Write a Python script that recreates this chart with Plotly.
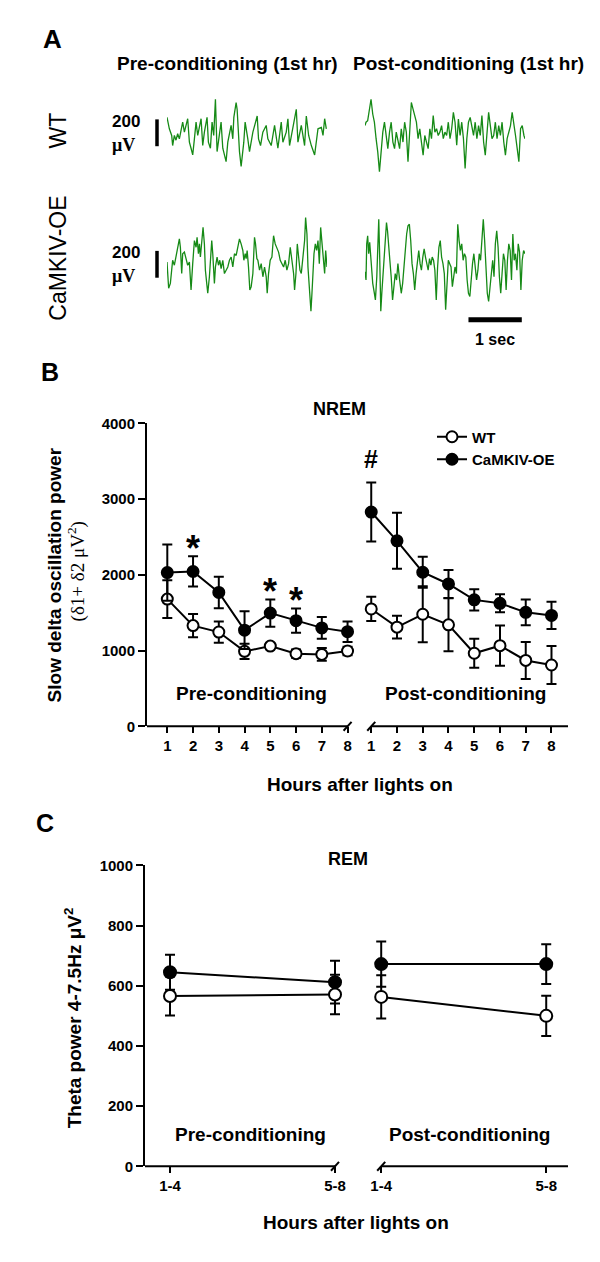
import plotly.graph_objects as go

W, H = 600, 1262
SANS = "Liberation Sans, Arial, sans-serif"
SERIF = "Liberation Serif, Times New Roman, serif"
INK = "black"
GREEN = "#168a16"

# ---------------- Panel A: EEG excerpts (time in ms, amplitude in uV) ----------------
WT_PRE_T = [0, 44, 88, 106, 138, 169, 200, 232, 294, 326, 388, 420, 451, 482, 514, 545,
            576, 639, 670, 701, 751, 776, 814, 845, 876, 908, 939, 970, 1014, 1046, 1108, 1140,
            1202, 1234, 1253, 1296, 1315, 1359, 1390, 1440, 1465, 1515, 1547, 1610, 1691, 1716, 1754, 1797,
            1860, 1891, 1954, 2017, 2048, 2079, 2142, 2173, 2236, 2267, 2298, 2361, 2424, 2455, 2518, 2580,
            2612, 2656, 2706, 2768, 2800, 2831, 2894, 2925, 2956, 2987]
WT_PRE_V = [110, 25, -25, -100, -25, -60, -12, -50, 75, 0, 100, -75, -120, -170, -50, 75,
            -25, 100, -100, 0, 110, -75, -120, 75, -25, 245, -145, -50, 75, -120, -220, -75,
            50, -50, 110, 220, 170, -145, -255, -75, 75, -50, -145, 0, 120, -50, -100, 0,
            50, -50, -100, 50, -25, -120, 75, -75, 0, 100, -100, 50, 170, -75, 50, -100,
            120, -25, -100, -170, -75, 25, 35, -25, 100, 25]

WT_POST_T = [0, 19, 50, 82, 113, 145, 176, 208, 239, 271, 302, 334, 365, 397, 428, 460, 491, 523, 554, 586,
             617, 649, 680, 712, 743, 775, 806, 838, 869, 901, 932, 964, 995, 1027, 1058, 1090, 1121, 1153,
             1184, 1216, 1247, 1279, 1310, 1342, 1373, 1405, 1436, 1468, 1499, 1531, 1562, 1594, 1625, 1657,
             1688, 1720, 1751, 1783, 1814, 1846, 1877, 1909, 1940, 1972, 2003, 2035, 2066, 2098, 2129, 2161,
             2192, 2224, 2255, 2287, 2318, 2350, 2381, 2413, 2444, 2476, 2507, 2539, 2570, 2602, 2633, 2665,
             2696, 2728, 2759, 2791, 2822, 2854, 2885, 2917, 2948, 2980, 3000]
WT_POST_V = [49, 74, 86, 172, 245, 135, 74, -49, -147, -294,
             -123, 0, 74, -49, -123, 0, 74, -74, -123, 0,
             -74, -123, 25, -74, 74, 0, -221, -25, 221, 172,
             123, 74, -49, 25, -74, -172, -25, -74, -123, 25,
             -49, 123, 0, 25, -25, 0, 49, -49, 0, -25,
             74, -49, 25, 147, 74, -98, 98, -25, 74, -49,
             -270, -49, 74, 110, 49, -25, 74, -49, 49, -25,
             123, -74, -172, 0, 147, 49, -49, -25, 74, -49,
             49, -25, 74, -74, -172, -49, 0, 49, 147, 74,
             -25, -123, -221, 25, 49, -25, -49]

OE_PRE_T = [0, 13, 31, 63, 75, 106, 138, 169, 200, 232,
            251, 276, 294, 326, 357, 388, 420, 438, 451, 482,
            514, 545, 564, 589, 608, 626, 658, 676, 701, 720,
            745, 764, 795, 814, 839, 858, 889, 908, 939, 965,
            990, 1015, 1046, 1077, 1109, 1140, 1171, 1203, 1234, 1265,
            1297, 1328, 1359, 1390, 1422, 1441, 1466, 1484, 1503, 1528,
            1553, 1578, 1610, 1641, 1660, 1685, 1704, 1735, 1766, 1798,
            1829, 1860, 1879, 1904, 1935, 1967, 1998, 2029, 2061, 2092,
            2123, 2154, 2186, 2217, 2248, 2280, 2311, 2342, 2374, 2392,
            2418, 2443, 2468, 2493, 2518, 2549, 2580, 2599, 2624, 2643,
            2662, 2681, 2699, 2718, 2737, 2756, 2781, 2806, 2831, 2856,
            2881, 2906, 2931, 2956, 2975, 3000]
OE_PRE_V = [12, -122, -184, -147, -98, 25, -12, 49, 98, 184,
            122, -74, 74, 86, 37, -12, 12, -74, -196, 0,
            172, 122, 196, 74, 147, 49, 172, 270, 147, -49,
            -147, -221, -98, 25, 172, 74, -147, -25, 49, -12,
            25, -37, 25, -74, -49, -25, 25, 49, -25, 74,
            61, 122, 184, 147, 98, 25, 74, 37, 98, -25,
            -196, -172, -74, 196, 147, 37, 25, -49, 0, -98,
            -25, -98, -221, -74, 25, 49, 208, 147, 122, 86,
            25, 0, -25, 25, -49, 0, 122, 25, -74, -196,
            -74, 147, 49, -49, -74, 49, 172, 343, 221, -25,
            -172, -294, -355, -221, -74, 74, 147, 98, 172, 0,
            270, 147, 0, -74, 98, -25]

OE_POST_T = [0, 19, 32, 50, 69, 88, 113, 145, 176, 195,
             221, 239, 258, 277, 296, 315, 340, 365, 384, 403,
             422, 441, 466, 491, 517, 542, 567, 592, 617, 649,
             680, 706, 731, 756, 781, 806, 832, 857, 882, 907,
             932, 958, 983, 1008, 1033, 1058, 1084, 1109, 1134, 1159,
             1184, 1210, 1235, 1260, 1285, 1310, 1336, 1361, 1386, 1411,
             1436, 1462, 1487, 1512, 1537, 1562, 1588, 1613, 1638, 1663,
             1688, 1714, 1739, 1764, 1789, 1814, 1840, 1865, 1890, 1915,
             1940, 1966, 1991, 2016, 2041, 2066, 2092, 2117, 2142, 2167,
             2192, 2218, 2243, 2268, 2293, 2318, 2344, 2369, 2394, 2419,
             2444, 2470, 2495, 2520, 2545, 2570, 2596, 2621, 2646, 2671,
             2696, 2722, 2747, 2772, 2797, 2822, 2848, 2873, 2898, 2923,
             2948, 2974, 3000]
OE_POST_V = [-61, -122, 147, 208, 74, 159, 25, -147, -221, -270,
             -98, 74, 331, 25, -355, -221, -74, 74, 196, 306,
             245, 172, 25, -98, -270, -172, -74, -122, 0, -122,
             -221, -147, -25, 122, 221, 282, 294, 172, 0, -74,
             -196, -74, 25, 98, 0, -49, 49, 110, 49, 0,
             -49, 37, -12, 49, 25, -49, -270, -25, 122, 172,
             49, 0, -74, -343, -98, 25, 0, -25, -172, -98,
             -25, -74, 294, 172, 98, 147, 25, 74, 49, -122,
             -221, -245, -74, 0, 74, -25, -122, -49, 74, 25,
             196, 331, 172, 0, -221, -282, -172, -74, 25, -98,
             147, 245, 122, -98, -221, -74, 74, 25, -196, 25,
             147, 98, -122, 221, 25, 74, -49, 147, 86, -196,
             25, 98, 74]

SCALE_UV = 200      # vertical calibration bar
SCALE_MS = 1000     # horizontal calibration bar

# ---------------- Panel B: NREM slow delta power ----------------
HOURS = [1, 2, 3, 4, 5, 6, 7, 8]
HOUR_LABELS = ["1", "2", "3", "4", "5", "6", "7", "8"]
B_WT_PRE = [1680, 1330, 1245, 990, 1060, 960, 950, 995]
B_WT_PRE_ERR = [250, 155, 140, 100, 40, 55, 85, 55]
B_OE_PRE = [2030, 2045, 1768, 1270, 1495, 1395, 1300, 1250]
B_OE_PRE_ERR = [370, 200, 208, 250, 180, 160, 145, 135]
B_WT_POST = [1550, 1310, 1480, 1340, 965, 1065, 870, 810]
B_WT_POST_ERR = [160, 150, 370, 350, 190, 265, 245, 250]
B_OE_POST = [2830, 2450, 2035, 1880, 1670, 1625, 1505, 1465]
B_OE_POST_ERR = [390, 370, 205, 185, 140, 120, 170, 180]
B_STAR_HOURS = [2, 5, 6]       # pre-conditioning, "*"
B_HASH_HOURS = [1]             # post-conditioning, "#"
B_YTICKS = [0, 1000, 2000, 3000, 4000]

# ---------------- Panel C: REM theta power ----------------
C_LABELS = ["1-4", "5-8"]
C_WT_PRE = [566, 571]
C_WT_PRE_ERR = [65, 66]
C_OE_PRE = [645, 612]
C_OE_PRE_ERR = [58, 71]
C_WT_POST = [563, 500]
C_WT_POST_ERR = [72, 67]
C_OE_POST = [672, 672]
C_OE_POST_ERR = [75, 66]
C_YTICKS = [0, 200, 400, 600, 800, 1000]


def PX(x):
    return x / W


def PY(y):
    return 1 - y / H


fig = go.Figure()
axes = {}
shapes = []
annotations = []


def text(x, y, s, size=19, bold=True, family=SANS, angle=0, **kw):
    annotations.append(dict(xref="paper", yref="paper", x=PX(x), y=PY(y),
                            text=f"<b>{s}</b>" if bold else s, showarrow=False,
                            font=dict(family=family, size=size, color=INK),
                            textangle=angle, xanchor="center", yanchor="middle", **kw))


def seg(x0, y0, x1, y1, width=2):
    shapes.append(dict(type="line", xref="paper", yref="paper", x0=PX(x0), y0=PY(y0),
                       x1=PX(x1), y1=PY(y1), line=dict(color=INK, width=width)))


def slash(cx, cy):
    seg(cx - 4, cy + 4.5, cx + 4, cy - 4.5, width=2)


# ---------------- Panel A layout ----------------
A_COLS = {"pre": (159, 319), "post": (357, 517)}
A_ROWS = {"WT": 116.7, "OE": 250.0}
A_HALF = 65
A_PX_PER_UV = 0.136
A_MS = 3000


def a_x(col, ms):
    x0, x1 = A_COLS[col]
    return x0 + ms / A_MS * (x1 - x0)


def a_y(row, uv):
    return A_ROWS[row] - uv * A_PX_PER_UV


a_panels = [("WT", "pre", WT_PRE_T, WT_PRE_V), ("WT", "post", WT_POST_T, WT_POST_V),
            ("OE", "pre", OE_PRE_T, OE_PRE_V), ("OE", "post", OE_POST_T, OE_POST_V)]
for i, (row, col, t, v) in enumerate(a_panels, start=1):
    xs = "" if i == 1 else str(i)
    fig.add_trace(go.Scatter(x=t, y=v, mode="lines", line=dict(color=GREEN, width=1.3),
                             xaxis="x" + xs, yaxis="y" + xs, showlegend=False, hoverinfo="skip"))
    x0, x1 = A_COLS[col]
    c = A_ROWS[row]
    axes["xaxis" + xs] = dict(domain=[PX(x0), PX(x1)], range=[0, A_MS], visible=False,
                              anchor="y" + xs)
    axes["yaxis" + xs] = dict(domain=[PY(c + A_HALF), PY(c - A_HALF)],
                              range=[-A_HALF / A_PX_PER_UV, A_HALF / A_PX_PER_UV],
                              visible=False, anchor="x" + xs)

for row in ("WT", "OE"):
    seg(149, a_y(row, -SCALE_UV / 2 - 5), 149, a_y(row, SCALE_UV / 2 - 5), width=3.5)
    cy = A_ROWS[row]
    text(118, cy - 11, "200", size=17)
    text(115, cy + 13, "μV", size=18, family=SERIF)
seg(a_x("post", 1940), a_y("OE", -419), a_x("post", 1940 + SCALE_MS), a_y("OE", -419), width=5)
text(487, 327, "1 sec", size=16)

text(44, 22, "A", size=26)
text(220, 47, "Pre-conditioning (1st hr)", size=19)
text(460, 47, "Post-conditioning (1st hr)", size=19)
text(50, 115, "WT", size=23, bold=False, angle=-90)
text(50, 245, "CaMKIV-OE", size=23, bold=False, angle=-90)

# ---------------- Panel B ----------------
B_DOM_X = (139, 560)
B_DOM_Y = (719, 412)
B_XR = [0.2117, 16.561]
B_POST_OFF = 7.92
B_YR = [0, 4000]
B_PRE_X = HOURS
B_POST_X = [h + B_POST_OFF for h in HOURS]


def bx(x):
    return B_DOM_X[0] + (x - B_XR[0]) / (B_XR[1] - B_XR[0]) * (B_DOM_X[1] - B_DOM_X[0])


TICKFONT = dict(family=SANS, size=15, color=INK, weight="bold")


def series(x, y, err, filled, xa, ya, name, show, size):
    return go.Scatter(x=x, y=y, mode="lines+markers", name=f"<b>{name}</b>", legendgroup=name,
                      showlegend=show, line=dict(color=INK, width=2),
                      marker=dict(symbol="circle", size=size, color=INK if filled else "white",
                                  line=dict(color=INK, width=2)),
                      error_y=dict(type="data", array=err, color=INK, thickness=2, width=5),
                      xaxis=xa, yaxis=ya, cliponaxis=False, hoverinfo="skip")


fig.add_trace(series(B_PRE_X, B_WT_PRE, B_WT_PRE_ERR, False, "x5", "y5", "WT", True, 11))
fig.add_trace(series(B_POST_X, B_WT_POST, B_WT_POST_ERR, False, "x5", "y5", "WT", False, 11))
fig.add_trace(series(B_PRE_X, B_OE_PRE, B_OE_PRE_ERR, True, "x5", "y5", "CaMKIV-OE", True, 11))
fig.add_trace(series(B_POST_X, B_OE_POST, B_OE_POST_ERR, True, "x5", "y5", "CaMKIV-OE", False, 11))

axes["xaxis5"] = dict(domain=[PX(B_DOM_X[0]), PX(B_DOM_X[1])], range=B_XR, anchor="y5",
                      showline=False, showgrid=False, zeroline=False, ticks="outside",
                      ticklen=6, tickwidth=2, tickcolor=INK, tickvals=B_PRE_X + B_POST_X,
                      ticktext=HOUR_LABELS + HOUR_LABELS, tickfont=TICKFONT)
axes["yaxis5"] = dict(domain=[PY(B_DOM_Y[0]), PY(B_DOM_Y[1])], range=B_YR, anchor="x5",
                      showline=True, linewidth=2, linecolor=INK, showgrid=False, zeroline=False,
                      ticks="outside", ticklen=7, tickwidth=2, tickcolor=INK,
                      tickvals=B_YTICKS, ticktext=[str(v) for v in B_YTICKS], tickfont=TICKFONT)

by0 = B_DOM_Y[0]
seg(B_DOM_X[0], by0, bx(HOURS[-1]), by0)
slash(bx(HOURS[-1]), by0)
seg(bx(B_POST_X[0]), by0, B_DOM_X[1], by0)
slash(bx(B_POST_X[0]), by0)

for h in B_STAR_HOURS:
    i = HOURS.index(h)
    annotations.append(dict(xref="x5", yref="y5", x=B_PRE_X[i], y=B_OE_PRE[i] + B_OE_PRE_ERR[i],
                            text="<b>*</b>", showarrow=False, yanchor="middle", yshift=8,
                            font=dict(family=SANS, size=36, color=INK)))
for h in B_HASH_HOURS:
    i = HOURS.index(h)
    annotations.append(dict(xref="x5", yref="y5", x=B_POST_X[i], y=B_OE_POST[i] + B_OE_POST_ERR[i],
                            text="<b>#</b>", showarrow=False, yanchor="middle", yshift=24,
                            font=dict(family=SANS, size=25, color=INK)))

text(42, 360, "B", size=25)
text(331, 397, "NREM", size=18)
text(243, 686, "Pre-conditioning", size=19)
text(457, 686, "Post-conditioning", size=19)
text(352, 778, "Hours after lights on", size=19)
text(46, 566, "Slow delta oscillation power", size=19, angle=-90)
text(68, 562, "(δ1+ δ2 μV<sup>2</sup>)", size=19, bold=False, family=SERIF, angle=-90)

# ---------------- Panel C ----------------
C_DOM_X = (137, 560)
C_DOM_Y = (1165, 860)
C_XR = [-0.1515, 2.412]
C_POST_OFF = 1.28
C_YR = [0, 1000]
C_PRE_X = [0, 1]
C_POST_X = [v + C_POST_OFF for v in C_PRE_X]


def cx(x):
    return C_DOM_X[0] + (x - C_XR[0]) / (C_XR[1] - C_XR[0]) * (C_DOM_X[1] - C_DOM_X[0])


fig.add_trace(series(C_PRE_X, C_OE_PRE, C_OE_PRE_ERR, True, "x6", "y6", "CaMKIV-OE", False, 12))
fig.add_trace(series(C_POST_X, C_OE_POST, C_OE_POST_ERR, True, "x6", "y6", "CaMKIV-OE", False, 12))
fig.add_trace(series(C_PRE_X, C_WT_PRE, C_WT_PRE_ERR, False, "x6", "y6", "WT", False, 12))
fig.add_trace(series(C_POST_X, C_WT_POST, C_WT_POST_ERR, False, "x6", "y6", "WT", False, 12))

axes["xaxis6"] = dict(domain=[PX(C_DOM_X[0]), PX(C_DOM_X[1])], range=C_XR, anchor="y6",
                      showline=False, showgrid=False, zeroline=False, ticks="outside",
                      ticklen=6, tickwidth=2, tickcolor=INK, tickvals=C_PRE_X + C_POST_X,
                      ticktext=C_LABELS + C_LABELS, tickfont=TICKFONT)
axes["yaxis6"] = dict(domain=[PY(C_DOM_Y[0]), PY(C_DOM_Y[1])], range=C_YR, anchor="x6",
                      showline=True, linewidth=2, linecolor=INK, showgrid=False, zeroline=False,
                      ticks="outside", ticklen=7, tickwidth=2, tickcolor=INK,
                      tickvals=C_YTICKS, ticktext=[str(v) for v in C_YTICKS], tickfont=TICKFONT)

cy0 = C_DOM_Y[0]
seg(C_DOM_X[0], cy0, cx(C_PRE_X[-1]), cy0)
slash(cx(C_PRE_X[-1]), cy0)
seg(cx(C_POST_X[0]), cy0, C_DOM_X[1], cy0)
slash(cx(C_POST_X[0]), cy0)

text(37, 817, "C", size=25)
text(340, 853, "REM", size=18)
text(242, 1133, "Pre-conditioning", size=19)
text(461, 1133, "Post-conditioning", size=19)
text(348, 1222, "Hours after lights on", size=19)
text(65, 1015, "Theta power 4-7.5Hz μV<sup>2</sup>", size=19, angle=-90)

fig.update_layout(
    width=W, height=H, margin=dict(l=0, r=0, t=0, b=0),
    paper_bgcolor="white", plot_bgcolor="white",
    showlegend=True,
    legend=dict(x=PX(424), y=PY(409), xanchor="left", yanchor="top",
                font=dict(family=SANS, size=15, color=INK), bgcolor="rgba(0,0,0,0)",
                itemwidth=30, tracegroupgap=0),
    shapes=shapes, annotations=annotations, **axes,
)
fig.write_html("out.html")
